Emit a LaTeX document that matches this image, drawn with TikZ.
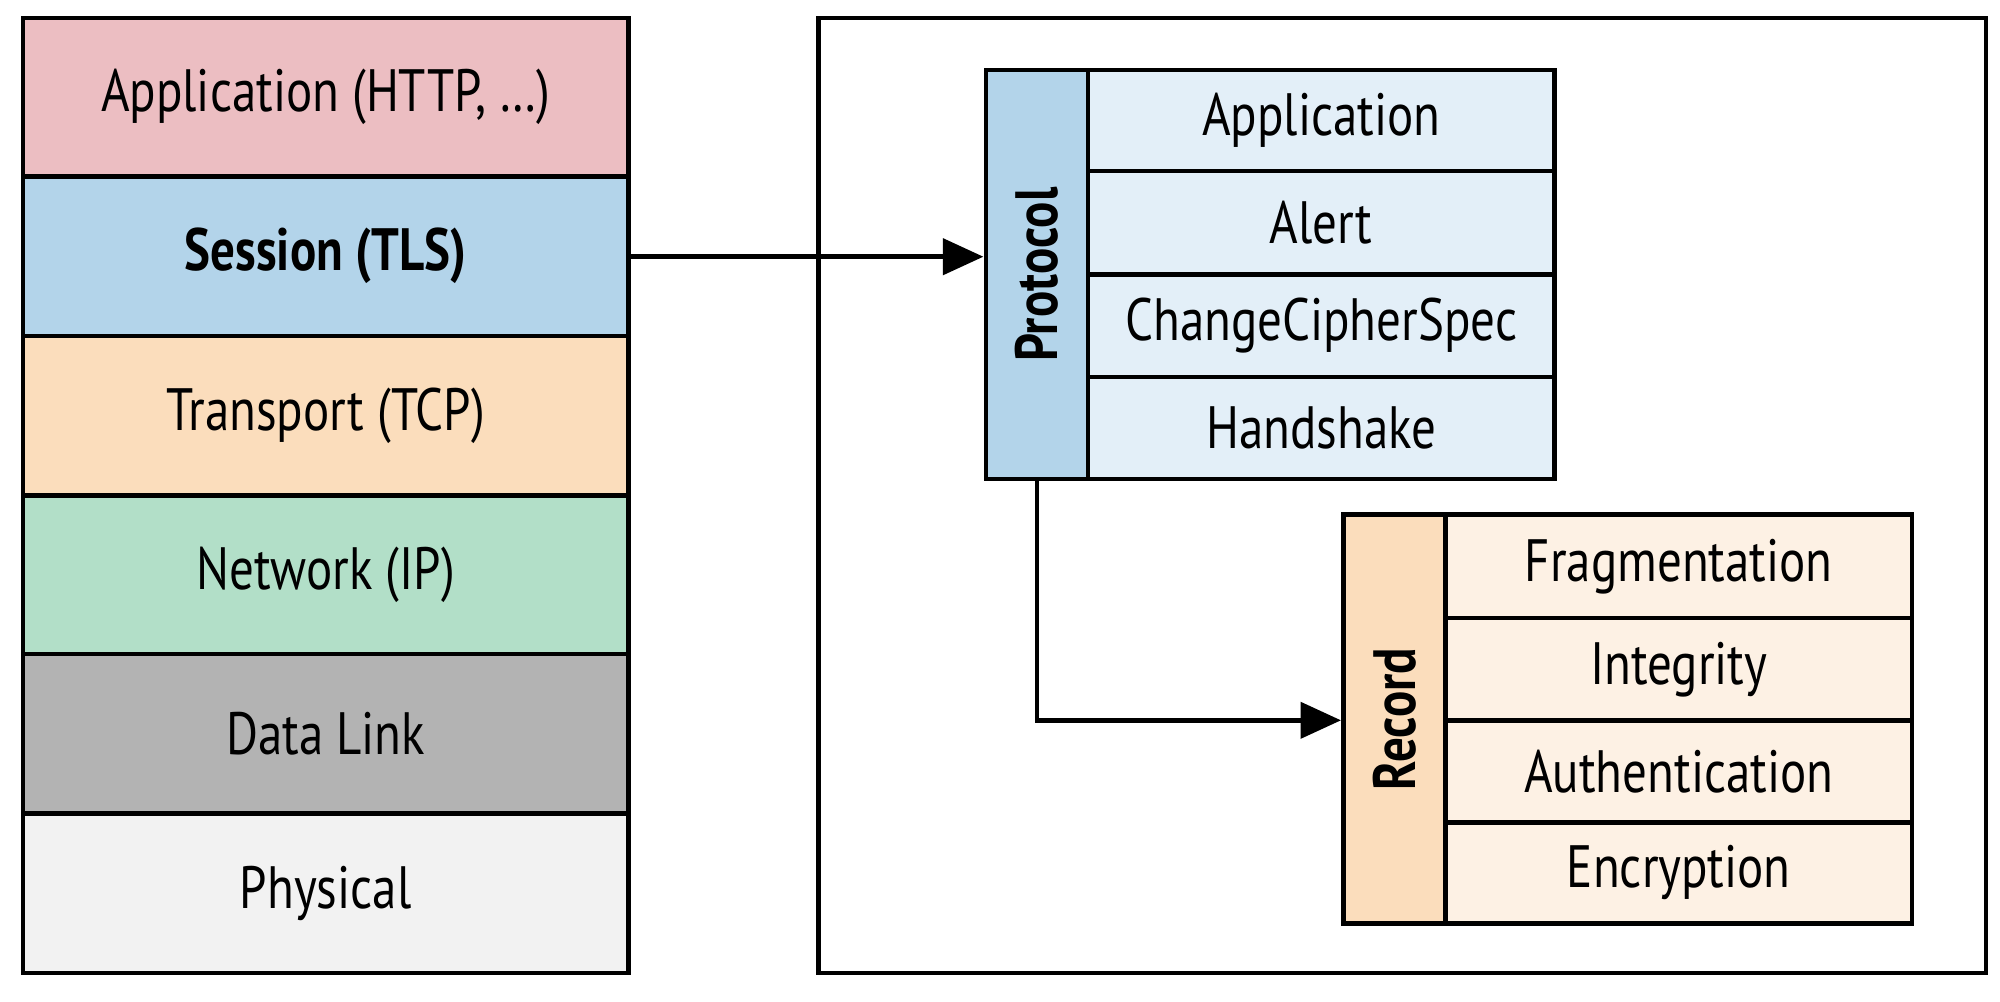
\documentclass[tikz,border=0pt]{standalone}
\usepackage{fontspec}
\setmainfont{PT Sans}[FakeStretch=0.82]
\usetikzlibrary{arrows.meta}
\definecolor{cApp}{HTML}{ECBEC2}
\definecolor{cSes}{HTML}{B3D4EA}
\definecolor{cTra}{HTML}{FBDDBC}
\definecolor{cNet}{HTML}{B2DFC8}
\definecolor{cDat}{HTML}{B3B3B3}
\definecolor{cPhy}{HTML}{F2F2F2}
\definecolor{cPi}{HTML}{E3EFF8}
\definecolor{cRi}{HTML}{FDF1E4}
\begin{document}
\begin{tikzpicture}[x=0.01cm,y=-0.01cm,
  box/.style={draw=black,line width=1pt},
  lbl/.style={font=\fontsize{13.3}{15}\selectfont},
  arr/.style={line width=1pt,-{Triangle[length=9pt,width=8pt]}}]
\useasboundingbox (0,0) rectangle (1566,784);
% left stack
\foreach \n/\c/\t/\ya/\yb in {app/cApp/{Application (HTTP, \ldots)}/14/138, ses/cSes/{\textbf{Session (TLS)}}/138/263, tra/cTra/{Transport (TCP)}/263/388, net/cNet/{Network (IP)}/388/512, dat/cDat/{Data Link}/512/637, phy/cPhy/{Physical}/637/762}{
  \draw[box,fill=\c] (18,\ya) rectangle (492,\yb);
  \node[lbl] (\n) at (255,{(\ya+\yb)/2}) {\t};
}
\coordinate (sesR) at (492,201);
% frame
\draw[box] (641,14) rectangle (1555,762);
% protocol
\draw[box,fill=cSes] (772,55) rectangle (852,375);
\node[rotate=90,font=\fontsize{13.3}{15}\selectfont\bfseries] (prot) at (812,215) {Protocol};
\foreach \n/\t/\ya/\yb in {pa/Application/55/134, pb/Alert/134/215, pc/ChangeCipherSpec/215/295, pd/Handshake/295/375}{
  \draw[box,fill=cPi] (852,\ya) rectangle (1217,\yb);
  \node[lbl] (\n) at (1034.5,{(\ya+\yb)/2}) {\t};
}
% record
\draw[box,fill=cTra] (1052,403) rectangle (1132,723);
\node[rotate=90,font=\fontsize{13.3}{15}\selectfont\bfseries] (rec) at (1092,563) {Record};
\foreach \n/\t/\ya/\yb in {ra/Fragmentation/403/484, rb/Integrity/484/564, rc/Authentication/564/644, rd/Encryption/644/723}{
  \draw[box,fill=cRi] (1132,\ya) rectangle (1497,\yb);
  \node[lbl] (\n) at (1314.5,{(\ya+\yb)/2}) {\t};
}
\coordinate (protL) at (770,201);
\coordinate (protB) at (812,375);
\coordinate (recL) at (1050,564);
\draw[arr] (sesR) -- (protL);
\draw[arr] (protB) |- (recL);
\end{tikzpicture}
\end{document}
